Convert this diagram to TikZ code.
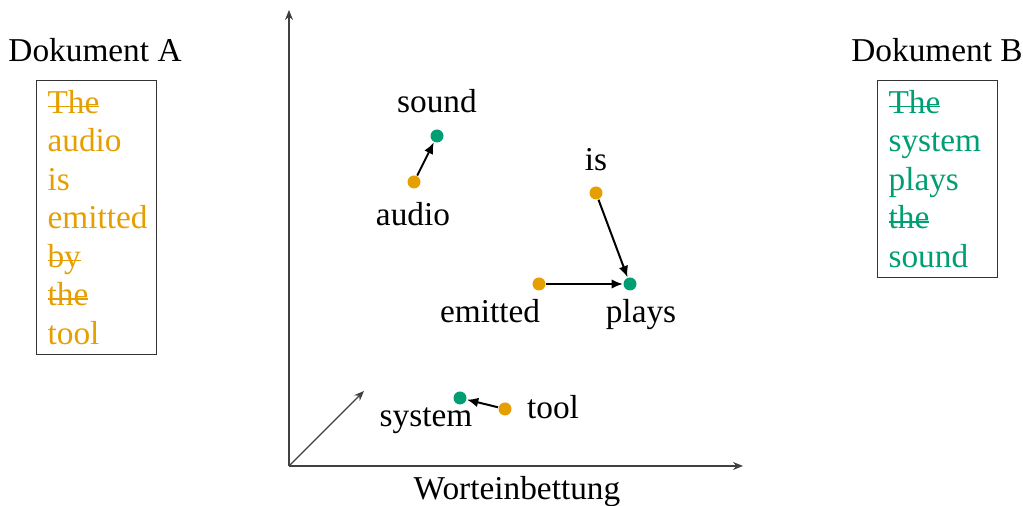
\documentclass[tikz,border=0pt]{standalone}
\usepackage{fontspec}
\setmainfont{Liberation Serif}
\usetikzlibrary{arrows.meta}
\definecolor{docorange}{HTML}{E69F00}
\definecolor{docgreen}{HTML}{009E73}
% struck-out word: a thin rule laid over the text
\newlength\strikelen
\newcommand\strikeword[1]{\leavevmode\settowidth\strikelen{#1}\rlap{\rule[0.4ex]{\strikelen}{0.45pt}}#1}
\begin{document}
\begin{tikzpicture}[x=0.3pt,y=-0.3pt,
  font=\fontsize{10}{11.55}\selectfont,
  axis/.style={draw=black!75, line width=0.35pt, -{Stealth[length=3pt,width=2.4pt]}},
  move/.style={draw=black, line width=0.6pt, -{Latex[length=3.4pt,width=2.9pt]}},
  dot/.style={circle, inner sep=0pt, minimum size=3.9pt, fill=#1},
  word/.style={anchor=base, inner sep=0pt},
  docbox/.style={draw=black!80, line width=0.35pt, anchor=north west, align=left,
    text width=29.4pt, inner xsep=3.3pt, inner ysep=2.9pt, text=#1}]
  \useasboundingbox (0,0) rectangle (1023,506);

  % coordinate axes of the embedding space
  \coordinate (O) at (289,466);
  \coordinate (ytip) at (289,10);
  \coordinate (xtip) at (743,466);
  \coordinate (ztip) at (364,391);
  \draw[axis] (O) -- (ytip);
  \draw[axis] (O) -- (xtip);
  \draw[axis] (O) -- (ztip);
  \node[word] (axislabel) at (517,500) {Worteinbettung};

  % documents
  \node[word] (titleA) at (95,62) {Dokument A};
  \node[docbox=docorange] (docA) at (36,80)
    {\strikeword{The}\\audio\\is\\emitted\\\strikeword{by}\\\strikeword{the}\\tool};
  \node[word] (titleB) at (937,62) {Dokument B};
  \node[docbox=docgreen] (docB) at (877,80)
    {\strikeword{The}\\system\\plays\\\strikeword{the}\\sound};

  % word vectors
  \node[dot=docgreen]  (sound)   at (437,136) {};
  \node[dot=docorange] (audio)   at (414,182) {};
  \node[dot=docorange] (is)      at (596,193) {};
  \node[dot=docgreen]  (plays)   at (630,284) {};
  \node[dot=docorange] (emitted) at (539,284) {};
  \node[dot=docgreen]  (system)  at (460,398) {};
  \node[dot=docorange] (tool)    at (505,409) {};

  \node[word] (soundlbl)   at (437,113) {sound};
  \node[word] (audiolbl)   at (413,226) {audio};
  \node[word] (islbl)      at (596,171) {is};
  \node[word] (playslbl)   at (641,323) {plays};
  \node[word] (emittedlbl) at (490,323) {emitted};
  \node[word] (systemlbl)  at (426,427) {system};
  \node[word] (toollbl)    at (553,419) {tool};

  % word movements
  \draw[move] (audio) -- (sound);
  \draw[move] (is) -- (plays);
  \draw[move] (emitted) -- (plays);
  \draw[move] (tool) -- (system);
\end{tikzpicture}
\end{document}
